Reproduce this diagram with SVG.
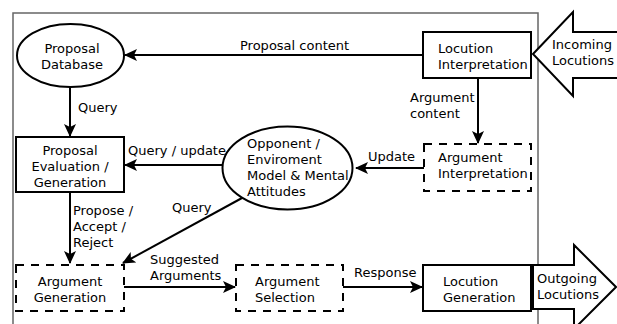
<svg xmlns="http://www.w3.org/2000/svg" width="617" height="324" viewBox="0 0 617 324">
<style>
text{font-family:"DejaVu Sans","Noto Sans",sans-serif;font-size:13px;fill:#000}
.c{text-anchor:middle}
.n{fill:#fff;stroke:#000;stroke-width:2}
.d{fill:#fff;stroke:#000;stroke-width:2;stroke-dasharray:8,7}
.e{fill:none;stroke:#000;stroke-width:2;marker-end:url(#ah)}
.big{fill:#fff;stroke:#000;stroke-width:2;stroke-linejoin:miter}
</style>
<defs>
<marker id="ah" markerUnits="userSpaceOnUse" markerWidth="14" markerHeight="12" refX="12" refY="6" orient="auto">
<path d="M0,0 L13,6 L0,12 L3,6 z" fill="#000"/>
</marker>
</defs>
<rect x="13" y="13" width="525" height="330" fill="none" stroke="#666" stroke-width="1.5"/>
<g id="connectors">
<line class="e" x1="423" y1="55" x2="125" y2="55"/>
<line class="e" x1="70" y1="87" x2="70" y2="136"/>
<line class="e" x1="478" y1="78" x2="478" y2="143"/>
<line class="e" x1="223" y1="165" x2="125" y2="165"/>
<line class="e" x1="424" y1="168" x2="356" y2="168"/>
<line class="e" x1="70" y1="192" x2="70" y2="263"/>
<line class="e" x1="242" y1="198" x2="123" y2="263"/>
<line class="e" x1="124" y1="287" x2="235" y2="287"/>
<line class="e" x1="343" y1="287" x2="422" y2="287"/>
<text x="240" y="50">Proposal content</text>
<text x="78" y="112">Query</text>
<text x="410" y="102">Argument</text>
<text x="410" y="118">content</text>
<text x="128" y="155">Query / update</text>
<text x="368" y="161">Update</text>
<text x="73" y="215">Propose /</text>
<text x="73" y="231">Accept /</text>
<text x="73" y="247">Reject</text>
<text x="172" y="212">Query</text>
<text x="150" y="264">Suggested</text>
<text x="150" y="280">Arguments</text>
<text x="354" y="277">Response</text>
</g>
<g id="proposal-database">
<ellipse class="n" cx="70.5" cy="55.5" rx="53.5" ry="31.5"/>
<text class="c" x="72" y="53">Proposal</text>
<text class="c" x="72" y="69">Database</text>
</g>
<g id="locution-interpretation">
<rect class="n" x="423" y="32" width="108" height="46"/>
<text x="438" y="53">Locution</text>
<text x="438" y="69">Interpretation</text>
</g>
<g id="incoming-locutions">
<path class="big" d="M533,54 L573,12 L573,32 L625,32 L625,78 L573,78 L573,96 Z"/>
<text x="552" y="49">Incoming</text>
<text x="552" y="65">Locutions</text>
</g>
<g id="proposal-evaluation">
<rect class="n" x="16" y="137" width="108" height="55"/>
<text class="c" x="70" y="155">Proposal</text>
<text class="c" x="70" y="171">Evaluation /</text>
<text class="c" x="70" y="187">Generation</text>
</g>
<g id="opponent-model">
<ellipse class="n" cx="287.5" cy="168" rx="65" ry="41.5"/>
<text x="247" y="148">Opponent /</text>
<text x="247" y="164">Enviroment</text>
<text x="247" y="180">Model &amp; Mental</text>
<text x="247" y="196">Attitudes</text>
</g>
<g id="argument-interpretation">
<rect class="d" x="424" y="144" width="107" height="47"/>
<text x="438" y="162">Argument</text>
<text x="438" y="178">Interpretation</text>
</g>
<g id="argument-generation">
<rect class="d" x="16" y="265" width="108" height="46"/>
<text class="c" x="70" y="286">Argument</text>
<text class="c" x="70" y="302">Generation</text>
</g>
<g id="argument-selection">
<rect class="d" x="236" y="265" width="107" height="46"/>
<text x="255" y="286">Argument</text>
<text x="255" y="302">Selection</text>
</g>
<g id="locution-generation">
<rect class="n" x="423" y="265" width="108" height="46"/>
<text x="443" y="286">Locution</text>
<text x="443" y="302">Generation</text>
</g>
<g id="outgoing-locutions">
<path class="big" d="M533,265 L574,265 L574,245 L616,287 L574,329 L574,309 L533,309 Z"/>
<text x="537" y="283">Outgoing</text>
<text x="537" y="299">Locutions</text>
</g>
</svg>
